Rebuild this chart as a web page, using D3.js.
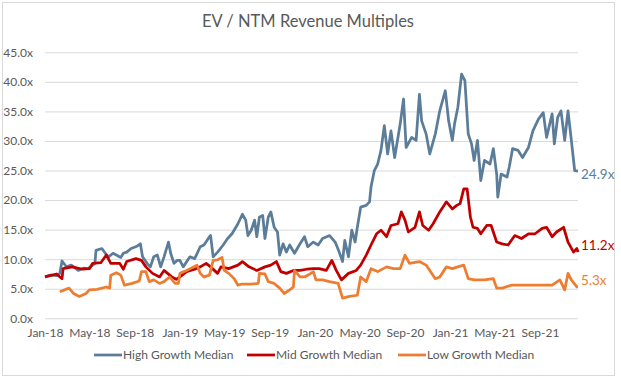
<!DOCTYPE html>
<html lang="en">
  <head>
    <meta charset="UTF-8">
    <title>EV / NTM Revenue Multiples</title>
    <style>
body{
    margin: 0;
    background: #fff;
}
svg text{
    font-family: Lato, "Open Sans", sans-serif;
    fill: #595959;
}
    </style>
  </head>
  <body>
    <script src="https://cdn.jsdelivr.net/npm/d3@7/dist/d3.min.js" charset="UTF-8"></script>
    <script>
// values
var seriesNames = ["High Growth Median", "Mid Growth Median", "Low Growth Median"];
var endLabels = ["24.9x", "11.2x", "5.3x"];
var yTicks = [0, 5, 10, 15, 20, 25, 30, 35, 40, 45];
var xTickDates = ["2018-01-01", "2018-05-01", "2018-09-01", "2019-01-01", "2019-05-01", "2019-09-01",
                  "2020-01-01", "2020-05-01", "2020-09-01", "2021-01-01", "2021-05-01", "2021-09-01"];

var highDates = ["2018-01-01", "2018-01-16", "2018-02-01", "2018-02-10", "2018-02-16", "2018-02-28", "2018-03-13",
    "2018-04-01", "2018-04-16", "2018-04-28", "2018-05-16", "2018-05-19", "2018-06-04", "2018-06-13", "2018-06-22",
    "2018-07-04", "2018-07-13", "2018-07-25", "2018-08-01", "2018-08-10", "2018-08-22", "2018-09-07", "2018-09-16",
    "2018-09-22", "2018-10-04", "2018-10-13", "2018-10-22", "2018-11-01", "2018-11-10", "2018-11-19", "2018-12-01",
    "2018-12-07", "2018-12-16", "2018-12-25", "2019-01-01", "2019-01-10", "2019-01-28", "2019-02-10", "2019-02-25",
    "2019-03-07", "2019-03-22", "2019-03-25", "2019-04-01", "2019-04-13", "2019-04-28", "2019-05-10", "2019-05-22",
    "2019-06-07", "2019-06-19", "2019-06-28", "2019-07-04", "2019-07-13", "2019-07-22", "2019-07-28", "2019-08-04",
    "2019-08-13", "2019-08-19", "2019-08-28", "2019-09-04", "2019-09-13", "2019-09-22", "2019-09-28", "2019-10-07",
    "2019-10-16", "2019-10-25", "2019-11-07", "2019-11-22", "2019-12-04", "2019-12-13", "2019-12-28", "2020-01-10",
    "2020-01-22", "2020-02-10", "2020-02-25", "2020-03-07", "2020-03-16", "2020-03-22", "2020-04-01", "2020-04-10",
    "2020-04-19", "2020-04-25", "2020-05-04", "2020-05-19", "2020-05-28", "2020-06-01", "2020-06-10", "2020-06-19",
    "2020-06-28", "2020-07-07", "2020-07-16", "2020-07-25", "2020-08-04", "2020-08-19", "2020-08-28", "2020-09-04",
    "2020-09-19", "2020-10-01", "2020-10-10", "2020-10-16", "2020-10-28", "2020-11-07", "2020-11-22", "2020-12-04",
    "2020-12-19", "2020-12-28", "2021-01-07", "2021-01-13", "2021-01-22", "2021-02-01", "2021-02-10", "2021-02-19",
    "2021-02-28", "2021-03-07", "2021-03-16", "2021-03-25", "2021-04-04", "2021-04-19", "2021-04-28", "2021-05-07",
    "2021-05-10", "2021-05-19", "2021-06-04", "2021-06-10", "2021-06-19", "2021-07-04", "2021-07-16", "2021-08-01",
    "2021-08-13", "2021-08-28", "2021-09-10", "2021-09-19", "2021-10-04", "2021-10-10", "2021-10-19", "2021-10-28",
    "2021-11-07", "2021-11-16", "2021-11-25", "2021-12-04", "2021-12-13"];
var highValues = [7.0, 7.3, 7.2, 7.6, 9.7, 8.7, 9.0,
    8.1, 8.5, 8.4, 9.3, 11.5, 11.8, 11.0, 10.4,
    11.0, 10.7, 10.3, 11.0, 11.2, 11.8, 12.2, 12.6,
    10.4, 9.3, 8.7, 10.4, 10.7, 8.7, 10.4, 12.9,
    11.0, 9.3, 9.8, 9.8, 8.7, 10.4, 10.1, 12.1,
    12.4, 13.8, 14.0, 10.4, 11.2, 12.4, 13.5, 14.3,
    16.0, 17.6, 16.6, 14.0, 14.9, 16.6, 13.8, 17.1,
    17.4, 13.5, 17.1, 18.0, 15.4, 14.6, 10.7, 12.6,
    11.2, 12.4, 11.0, 12.6, 13.8, 12.1, 12.9, 12.4,
    13.5, 14.0, 12.9, 11.2, 9.6, 13.2, 10.4, 14.9,
    12.9, 15.4, 18.8, 19.1, 19.7, 22.2, 25.0, 26.1,
    28.4, 32.6, 27.8, 31.7, 27.2, 32.9, 37.1, 28.9,
    30.6, 30.1, 37.9, 33.4, 31.2, 27.8, 31.2, 35.1,
    38.5, 33.4, 30.1, 32.9, 35.7, 41.3, 40.2, 31.2,
    29.5, 26.7, 30.1, 23.3, 26.7, 26.1, 28.7, 24.4,
    20.5, 24.4, 23.9, 25.6, 28.7, 28.4, 27.2, 28.9,
    31.7, 33.7, 34.8, 30.6, 34.6, 29.5, 34.0, 35.1,
    30.1, 35.1, 30.1, 25.0, 24.9];

var midDates = ["2018-01-01", "2018-02-01", "2018-02-16", "2018-02-19", "2018-03-16", "2018-04-13", "2018-05-01",
    "2018-05-10", "2018-06-01", "2018-06-16", "2018-06-28", "2018-07-22", "2018-08-01", "2018-08-10", "2018-09-04",
    "2018-09-19", "2018-10-01", "2018-10-19", "2018-11-07", "2018-11-19", "2018-12-10", "2018-12-22", "2019-01-01",
    "2019-01-19", "2019-02-10", "2019-02-25", "2019-03-13", "2019-03-25", "2019-04-13", "2019-04-22", "2019-05-13",
    "2019-06-07", "2019-06-19", "2019-07-07", "2019-07-28", "2019-08-19", "2019-09-04", "2019-09-19", "2019-10-01",
    "2019-10-16", "2019-11-04", "2019-11-22", "2019-12-10", "2019-12-28", "2020-01-13", "2020-02-01", "2020-02-16",
    "2020-02-28", "2020-03-13", "2020-04-01", "2020-04-22", "2020-05-04", "2020-05-19", "2020-06-01", "2020-06-16",
    "2020-06-28", "2020-07-13", "2020-07-25", "2020-08-13", "2020-08-22", "2020-09-01", "2020-09-10", "2020-09-28",
    "2020-10-10", "2020-10-19", "2020-11-04", "2020-11-16", "2020-12-04", "2020-12-22", "2021-01-07", "2021-01-19",
    "2021-01-28", "2021-02-07", "2021-02-16", "2021-02-25", "2021-03-04", "2021-03-16", "2021-03-25", "2021-04-10",
    "2021-04-22", "2021-05-07", "2021-05-22", "2021-06-07", "2021-06-25", "2021-07-13", "2021-08-01", "2021-08-19",
    "2021-09-07", "2021-09-19", "2021-10-04", "2021-10-16", "2021-11-04", "2021-11-16", "2021-12-01", "2021-12-10",
    "2021-12-13"];
var midValues = [7.0, 7.5, 6.7, 8.4, 8.7, 8.3, 8.4,
    9.3, 9.4, 10.7, 9.3, 9.3, 8.3, 9.6, 10.1,
    9.8, 8.7, 7.6, 7.0, 8.1, 7.0, 6.6, 7.0,
    7.9, 8.3, 8.7, 9.3, 8.7, 7.6, 8.7, 8.4,
    9.0, 9.6, 8.7, 8.1, 8.7, 9.0, 9.6, 7.9,
    7.6, 8.1, 8.1, 8.3, 8.4, 8.4, 8.1, 9.8,
    8.1, 6.5, 7.6, 8.1, 9.0, 10.7, 12.4, 14.3,
    14.9, 13.8, 15.7, 16.0, 18.0, 16.6, 14.6, 15.4,
    18.0, 15.7, 14.9, 16.0, 18.0, 19.7, 18.5, 19.1,
    19.4, 21.9, 21.9, 17.1, 15.4, 15.2, 14.3, 15.7,
    15.7, 12.9, 12.6, 12.4, 14.0, 13.5, 14.3, 14.3,
    15.2, 15.4, 13.8, 14.6, 15.4, 12.9, 11.2, 11.8,
    11.2];

var lowDates = ["2018-02-10", "2018-03-07", "2018-03-19", "2018-04-04", "2018-04-22", "2018-05-01", "2018-05-22",
    "2018-06-16", "2018-06-25", "2018-06-28", "2018-07-13", "2018-07-25", "2018-08-04", "2018-08-25", "2018-09-13",
    "2018-09-19", "2018-10-01", "2018-10-10", "2018-10-22", "2018-11-07", "2018-11-19", "2018-12-04", "2018-12-19",
    "2018-12-28", "2019-01-01", "2019-01-19", "2019-02-07", "2019-02-16", "2019-02-25", "2019-03-07", "2019-03-22",
    "2019-04-01", "2019-04-13", "2019-04-25", "2019-05-01", "2019-05-13", "2019-05-28", "2019-06-07", "2019-06-19",
    "2019-07-13", "2019-08-01", "2019-08-04", "2019-08-19", "2019-08-28", "2019-09-13", "2019-09-28", "2019-10-10",
    "2019-10-25", "2019-11-04", "2019-11-07", "2019-11-22", "2019-12-04", "2019-12-19", "2019-12-28", "2020-01-04",
    "2020-01-22", "2020-02-10", "2020-03-04", "2020-03-16", "2020-04-04", "2020-04-25", "2020-05-04", "2020-05-19",
    "2020-06-01", "2020-06-19", "2020-07-13", "2020-08-01", "2020-08-19", "2020-09-01", "2020-09-13", "2020-10-10",
    "2020-10-28", "2020-11-22", "2020-12-04", "2020-12-22", "2021-01-07", "2021-01-22", "2021-02-07", "2021-02-19",
    "2021-03-07", "2021-04-04", "2021-04-28", "2021-05-07", "2021-05-22", "2021-06-16", "2021-07-13", "2021-08-10",
    "2021-09-07", "2021-10-04", "2021-10-25", "2021-11-07", "2021-11-16", "2021-11-25", "2021-12-10", "2021-12-13"];
var lowValues = [4.5, 5.1, 4.2, 3.7, 4.2, 4.8, 4.9,
    5.3, 5.1, 7.3, 7.7, 7.3, 5.6, 5.9, 6.3,
    7.9, 7.9, 6.2, 6.5, 5.9, 6.2, 7.0, 5.9,
    5.9, 7.6, 8.1, 8.7, 9.0, 7.6, 7.0, 7.3,
    9.8, 9.9, 10.3, 8.1, 7.6, 6.7, 5.6, 5.8,
    5.8, 5.9, 7.6, 7.5, 6.2, 5.9, 5.1, 4.2,
    4.8, 5.3, 8.1, 7.0, 7.0, 7.5, 7.9, 6.5,
    6.5, 6.2, 5.9, 3.4, 3.7, 3.9, 7.0, 6.2,
    8.4, 7.9, 8.7, 8.4, 8.4, 10.7, 9.3, 9.6,
    9.0, 6.7, 7.0, 8.7, 8.4, 8.7, 9.0, 6.7,
    6.5, 6.5, 6.7, 5.1, 5.1, 5.6, 5.6, 5.6,
    5.6, 5.6, 6.5, 4.8, 7.6, 6.5, 5.3, 5.3];

var colors = ["#5B7D99", "#C00000", "#ED7D31"];
var labelShift = [3, -7, -7];

var width = 621, height = 378;
var plotLeft = 45, plotRight = 578, plotTop = 52.3, plotBottom = 318.3;
var parse = d3.timeParse("%Y-%m-%d");

function makeSeries(dates, values){
    return dates.map(function(d, i){ return {date: parse(d), value: values[i]}; });
}
var series = [makeSeries(highDates, highValues), makeSeries(midDates, midValues), makeSeries(lowDates, lowValues)];

var svg = d3.select("body").append("svg")
              .attr("width", width)
              .attr("height", height);

svg.append("rect")
    .attr("x", 2.5).attr("y", 2.5)
    .attr("width", 612).attr("height", 373)
    .attr("fill", "#fff")
    .attr("stroke", "#D9D9D9");

svg.append("text")
    .attr("x", 308).attr("y", 27)
    .attr("text-anchor", "middle")
    .attr("font-size", 16.5)
    .text("EV / NTM Revenue Multiples");

var x = d3.scaleTime()
          .domain([parse("2018-01-01"), parse("2021-12-13")])
          .range([plotLeft, plotRight]);
var y = d3.scaleLinear().domain([0, 45]).range([plotBottom, plotTop]);

// horizontal gridlines + y labels
var yAxis = d3.axisLeft(y)
              .tickValues(yTicks)
              .tickSize(-(plotRight - plotLeft))
              .tickPadding(12)
              .tickFormat(function(d){ return d3.format(".1f")(d) + "x"; });
var gy = svg.append("g").attr("transform", "translate(" + plotLeft + ",0)").call(yAxis);
gy.select(".domain").remove();
gy.selectAll("line").attr("stroke", "#D9D9D9").attr("stroke-width", 1);
gy.selectAll("text").attr("font-size", 12).attr("fill", "#595959").attr("font-family", "Lato, sans-serif");

var xAxis = d3.axisBottom(x)
              .tickValues(xTickDates.map(parse))
              .tickSize(0)
              .tickPadding(10)
              .tickFormat(d3.timeFormat("%b-%y"));
var gx = svg.append("g").attr("transform", "translate(0," + plotBottom + ")").call(xAxis);
gx.select(".domain").remove();
gx.selectAll("text").attr("font-size", 12).attr("fill", "#595959").attr("font-family", "Lato, sans-serif");

var line = d3.line()
             .x(function(d){ return x(d.date); })
             .y(function(d){ return y(d.value); });

series.forEach(function(s, i){
    svg.append("path")
        .datum(s)
        .attr("d", line)
        .attr("fill", "none")
        .attr("stroke", colors[i])
        .attr("stroke-width", 2.75)
        .attr("stroke-linejoin", "round");
});

// end labels
series.forEach(function(s, i){
    var last = s[s.length - 1];
    svg.append("text")
        .attr("x", x(last.date) + 3)
        .attr("y", y(last.value) + labelShift[i])
        .attr("dy", "0.35em")
        .attr("font-size", 13.5)
        .style("fill", colors[i])
        .text(endLabels[i]);
});

// legend
var legendX = [94, 247, 398];
seriesNames.forEach(function(name, i){
    svg.append("line")
        .attr("x1", legendX[i]).attr("x2", legendX[i] + 28)
        .attr("y1", 355).attr("y2", 355)
        .attr("stroke", colors[i])
        .attr("stroke-width", 2.75);
    svg.append("text")
        .attr("x", legendX[i] + 29)
        .attr("y", 355)
        .attr("dy", "0.35em")
        .attr("font-size", 12)
        .text(name);
});
    </script>
  </body>
</html>
